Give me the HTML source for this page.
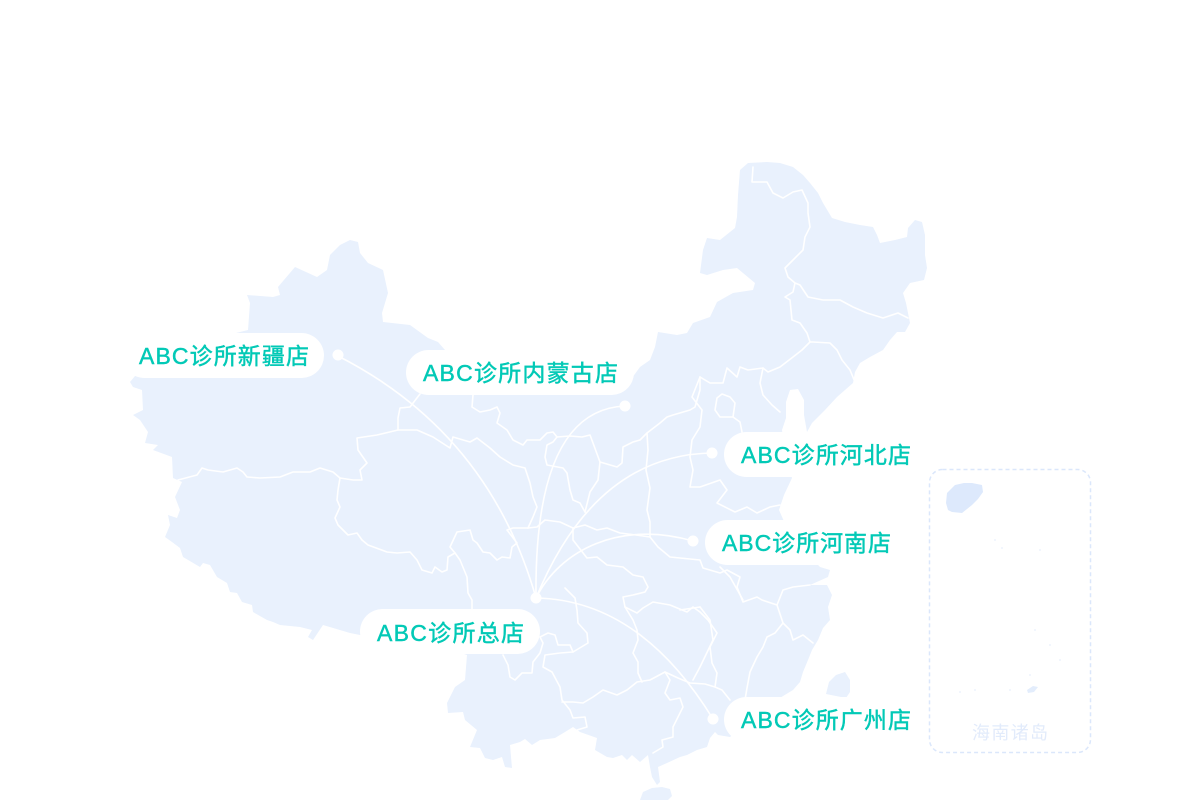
<!DOCTYPE html>
<html>
<head>
<meta charset="utf-8">
<style>
  html,body{margin:0;padding:0;background:#ffffff;}
  svg{display:block;}
  .lbl{font-family:"Liberation Sans","Noto Sans CJK SC",sans-serif;font-size:23px;fill:#02c9b6;stroke:#02c9b6;stroke-width:0.45px;}
</style>
</head>
<body>
<svg width="1180" height="800" viewBox="0 0 1180 800" xmlns="http://www.w3.org/2000/svg">
  <rect width="1180" height="800" fill="#ffffff"/>

  <!-- Mainland -->
  <path fill="#e9f1fd" d="M350,240 L358,242 L360,253 L368,263 L383,270 L388,293 L382,313 L383,322 L410,325 L428,338 L438,342 L445,350 L500,355 L580,372 L620,388 L623,390 L632,378 L640,367 L650,360 L655,347 L658,332 L677,335 L687,333 L693,323 L710,317 L717,302 L733,293 L753,290 L755,283 L737,268 L723,270 L707,275 L700,273 L703,250 L707,238 L720,240 L735,228 L737,217 L738,195 L740,170 L748,163 L767,162 L780,163 L793,167 L803,175 L810,183 L818,193 L823,203 L832,218 L845,222 L860,225 L873,227 L877,235 L880,243 L895,240 L907,237 L908,228 L915,220 L922,222 L925,235 L925,255 L927,268 L924,280 L910,283 L903,293 L906,303 L910,323 L905,332 L897,332 L890,340 L883,350 L870,357 L860,363 L855,372 L853,383 L845,390 L837,397 L825,410 L812,423 L807,432 L804,415 L804,400 L798,389 L790,390 L786,402 L786,418 L782,430 L785,455 L792,478 L784,495 L779,510 L790,535 L820,567 L830,570 L828,577 L810,585 L827,585 L832,595 L828,607 L830,620 L823,628 L818,640 L812,650 L808,660 L803,672 L800,682 L793,690 L760,710 L730,737 L718,735 L715,732 L710,738 L707,747 L697,750 L687,755 L680,757 L667,763 L658,767 L660,782 L657,785 L652,777 L650,767 L648,755 L640,762 L632,755 L627,760 L622,755 L613,758 L607,757 L595,750 L597,738 L580,732 L573,727 L565,732 L555,738 L540,740 L532,745 L525,739 L520,742 L510,745 L512,768 L505,767 L502,757 L493,760 L485,758 L480,748 L470,747 L477,730 L465,720 L463,712 L448,713 L447,703 L455,687 L465,680 L467,655 L430,642 L360,635 L350,633 L323,625 L313,640 L308,637 L312,630 L300,627 L280,625 L273,622 L267,620 L253,612 L252,605 L242,602 L237,593 L230,592 L227,583 L217,577 L210,565 L203,563 L200,567 L183,557 L180,548 L172,542 L165,537 L170,525 L168,515 L177,518 L180,510 L175,497 L182,482 L173,478 L172,457 L153,450 L158,445 L145,443 L148,432 L140,420 L133,415 L143,410 L142,390 L133,387 L130,382 L140,370 L200,342 L248,330 L250,303 L247,295 L273,297 L280,295 L278,287 L295,267 L317,277 L327,270 L330,255 L340,245 Z"/>
  <!-- Taiwan -->
  <path fill="#e9f1fd" d="M826,694 L829,682 L836,675 L845,672 L850,680 L850,692 L846,698 Z"/>
  <!-- Hainan (bottom edge) -->
  <path fill="#e9f1fd" d="M640,800 L643,792 L652,788 L662,787 L670,789 L672,796 L668,800 Z"/>

  <!-- Province boundaries -->
  <g fill="none" stroke="#ffffff" stroke-width="1.6" stroke-linejoin="round" stroke-linecap="round">
    <polyline points="178,480 197,475 202,468 208,470 223,472 237,468 243,472 247,477 260,478 280,477 293,472 310,472 320,468 333,472 340,478 353,480 362,480 360,470 367,463 358,450 357,438 377,435 398,430 398,418 400,408 410,407 420,394"/>
    <polyline points="398,430 417,430 433,437 450,448 453,437 470,442 477,438 490,448 500,457 513,465 525,468 530,483 533,497 537,507 533,517 528,528"/>
    <polyline points="340,478 338,490 337,500 340,507 335,518 338,525 348,535 357,533 362,540 368,545 387,552 397,553 410,552 417,560 422,570 432,573 435,567 442,572 447,570 448,557 455,553"/>
    <polyline points="455,553 460,560 467,577 468,593 472,600 472,612"/>
    <polyline points="455,553 450,547 457,532 470,530 473,540 477,543 483,552 490,553 497,560 502,557 510,558 512,547 517,543 507,530 513,528 528,528"/>
    <polyline points="473,395 472,407 480,412 490,410 497,407 500,413 497,423 507,430 513,440 523,445 527,440 540,440 547,433 553,432 557,437 553,442 547,445 545,457 547,465 563,468 567,473 570,490 573,500 580,503 585,512"/>
    <polyline points="557,437 570,436 582,437 590,435 593,443 600,462 617,467 622,463 623,447 633,442 640,440 647,433 660,423 667,417 673,415 690,410 695,407 700,390 700,377"/>
    <polyline points="600,462 598,480 590,492 585,512"/>
    <polyline points="647,433 648,450 646,470 650,488 647,510 650,522 650,537"/>
    <polyline points="700,377 692,397 702,410 700,427 692,440 690,457 693,470 690,487 700,487 720,480 727,490 717,503 735,512 747,507 757,513 770,507 780,505"/>
    <polyline points="700,377 710,383 723,383 727,368 737,377 740,367 748,370 763,368 768,372 780,367 793,357 802,350 810,342"/>
    <polyline points="763,368 760,383 763,395 772,405 780,412"/>
    <polyline points="753,167 752,182 767,182 773,193 783,198 793,192 802,190 808,203 808,213 810,227 805,237 803,250 793,260 785,268 788,277 795,283 793,292 785,297 790,300 792,320 800,323 807,333 810,342"/>
    <polyline points="795,283 800,285 808,297 823,300 840,300 853,307 867,313 883,318 898,313 908,318"/>
    <polyline points="810,342 813,342 830,343 837,350 842,360 850,370 855,382"/>
    <polyline points="717,398 722,394 730,397 735,403 733,417 720,417 715,410 717,398"/>
    <polyline points="733,417 740,422 742,432"/>
    <polyline points="528,528 537,527 545,520 560,522 573,528 585,525 597,530 607,528 620,533 636,535 650,537"/>
    <polyline points="650,537 658,547 670,557 700,560 703,568 720,573 727,570 740,577 737,587 743,602 757,597 762,600 777,605 783,590 793,587 810,585"/>
    <polyline points="573,528 573,540 587,558 597,557 607,565 623,567 633,575 643,577 648,587 645,592 633,595 623,597 625,607 633,620 637,630 638,640 633,653 638,662 638,673 642,682"/>
    <polyline points="565,588 575,598 577,610 578,623 587,633 588,643 573,652 560,653 545,655 543,667 552,672 560,687 562,700 570,710 573,718 585,717 587,727 577,730 570,735"/>
    <polyline points="503,655 508,665 510,677 515,680 522,673 532,673 533,662 540,653 543,643 540,637 548,633 555,635 558,645 570,645 573,652"/>
    <polyline points="562,702 573,702 583,703 593,697 603,690 617,695 627,690 637,682 650,680 665,672 670,680 665,693 670,700 680,698 683,707 673,727 673,737 662,740 663,747 653,753"/>
    <polyline points="625,607 637,613 643,608 653,602 670,605 687,612 693,607 700,612 708,620 717,633 710,647 712,663 717,673 715,687 722,690 730,700"/>
    <polyline points="665,672 678,678 690,683 705,684 715,687"/>
    <polyline points="777,605 783,623 775,633 767,637 763,647 757,657 750,672 747,688 745,700"/>
    <polyline points="783,623 790,630 793,640 803,635 813,643"/>
    <polyline points="720,567 730,577 743,600"/>
    <polyline points="700,607 710,620 713,640 700,667 693,680"/>
    <polyline points="680,610 700,607"/>
  </g>

  <!-- Flight arcs -->
  <g fill="none" stroke="#ffffff" stroke-width="1.6" stroke-linecap="round">
    <path d="M536,598 Q489,433 338,356"/>
    <path d="M536,598 Q534,410 625,406"/>
    <path d="M536,598 Q595,455 712,453"/>
    <path d="M536,598 C560,550 620,520 693,541"/>
    <path d="M536,598 Q640,600 713,719"/>
  </g>

  <!-- Dots -->
  <g fill="#ffffff">
    <circle cx="536" cy="598" r="5.5"/>
    <circle cx="338" cy="355" r="5.5"/>
    <circle cx="625" cy="406" r="5.5"/>
    <circle cx="712" cy="453" r="5.5"/>
    <circle cx="693" cy="541" r="5.5"/>
    <circle cx="713" cy="719" r="5.5"/>
  </g>

  <!-- Label pills -->
  <g fill="#ffffff">
    <rect x="122" y="333" width="202" height="45" rx="22.5"/>
    <rect x="406" y="350" width="228" height="45" rx="22.5"/>
    <rect x="724" y="432" width="203" height="45" rx="22.5"/>
    <rect x="705" y="520" width="202" height="45" rx="22.5"/>
    <rect x="360" y="609" width="180" height="45" rx="22.5"/>
    <rect x="724" y="697" width="203" height="45" rx="22.5"/>
  </g>

  <!-- Labels -->
  <text class="lbl" x="139" y="364" textLength="170" lengthAdjust="spacing">ABC诊所新疆店</text>
  <text class="lbl" x="423" y="381" textLength="195" lengthAdjust="spacing">ABC诊所内蒙古店</text>
  <text class="lbl" x="741" y="463" textLength="170" lengthAdjust="spacing">ABC诊所河北店</text>
  <text class="lbl" x="722" y="551" textLength="169" lengthAdjust="spacing">ABC诊所河南店</text>
  <text class="lbl" x="377" y="641" textLength="147" lengthAdjust="spacing">ABC诊所总店</text>
  <text class="lbl" x="741" y="728" textLength="170" lengthAdjust="spacing">ABC诊所广州店</text>

  <!-- South China Sea inset -->
  <rect x="929.5" y="469.5" width="161" height="283" rx="13" fill="none" stroke="#dbe7fb" stroke-width="1.5" stroke-dasharray="4 3"/>
  <path fill="#dde9fc" d="M947,493 L955,485 L964,483 L972,483 L982,485 L983,492 L978,499 L972,505 L962,513 L952,512 L948,510 L946,503 Z"/>
  <g fill="#eef3fd">
    <circle cx="995" cy="540" r="1"/>
    <circle cx="1002" cy="548" r="1"/>
    <circle cx="1040" cy="550" r="1"/>
    <circle cx="1035" cy="630" r="1"/>
    <circle cx="1050" cy="645" r="1"/>
    <circle cx="1060" cy="660" r="1"/>
    <circle cx="1030" cy="675" r="1"/>
    <circle cx="1010" cy="690" r="1"/>
    <circle cx="975" cy="690" r="1"/>
    <circle cx="960" cy="692" r="1"/>
  </g>
  <path fill="#e3edfc" d="M1027,690 L1033,686 L1038,687 L1034,692 L1028,693 Z"/>
  <text x="972" y="739" textLength="76" lengthAdjust="spacing" style="font-family:'Liberation Sans','Noto Sans CJK SC',sans-serif;font-size:18px;fill:#e2ebfb;">海南诸岛</text>
</svg>
</body>
</html>
